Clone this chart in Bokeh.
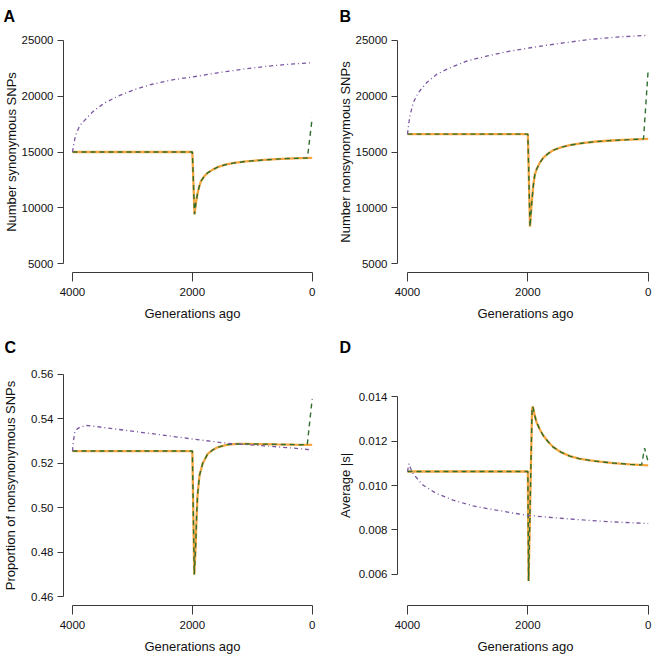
from bokeh.plotting import figure
from bokeh.layouts import column, row
from bokeh.models import Range1d, FixedTicker, PrintfTickFormatter
from bokeh.embed import file_html
from bokeh.resources import INLINE

FONT = "Liberation Sans"
ORANGE = "#F6A640"
GREEN = "#2E6F2E"
PURPLE = "#7A56A0"
AXIS = "#3a3a3a"

# ---------------- Panel A : number of synonymous SNPs ----------------
a_gen = [4000, 2000, 1964, 1940, 1912, 1884, 1856, 1800, 1745, 1660, 1579, 1450,
         1302, 1100, 859, 600, 416, 200, 0]
a_orange = [15000, 15000, 9420, 10440, 11330, 11930, 12380, 12830, 13130, 13420,
            13640, 13860, 14020, 14160, 14265, 14360, 14415, 14450, 14480]
a_green_gen = [4000, 2000, 1964, 1940, 1912, 1884, 1856, 1800, 1745, 1660, 1579, 1450,
               1302, 1100, 859, 600, 416, 200, 80, 0]
a_green = [15000, 15000, 9420, 10440, 11330, 11930, 12380, 12830, 13130, 13420,
           13640, 13860, 14020, 14160, 14265, 14360, 14415, 14450, 14465, 18060]
a_purple_gen = [4000, 3990, 3960, 3934, 3880, 3796, 3700, 3630, 3463, 3241, 2965,
                2687, 2355, 2000, 1579, 1136, 748, 305, 0]
a_purple = [15000, 15370, 16200, 16710, 17350, 17850, 18400, 18750, 19400, 20000,
            20600, 21050, 21450, 21720, 22100, 22430, 22690, 22900, 23000]

# ---------------- Panel B : number of nonsynonymous SNPs ----------------
b_gen = [4000, 2000, 1964, 1940, 1911, 1884, 1856, 1800, 1745, 1660, 1579, 1450,
         1303, 1100, 859, 600, 416, 200, 0]
b_orange = [16600, 16600, 8300, 10140, 11930, 12980, 13430, 14050, 14470, 14870,
            15160, 15420, 15610, 15790, 15940, 16030, 16085, 16140, 16175]
b_green_gen = [4000, 2000, 1964, 1940, 1911, 1884, 1856, 1800, 1745, 1660, 1579, 1450,
               1303, 1100, 859, 600, 416, 200, 78, 0]
b_green = [16600, 16600, 8300, 10140, 11930, 12980, 13430, 14050, 14470, 14870,
           15160, 15420, 15610, 15790, 15940, 16030, 16085, 16140, 16160, 22400]
b_purple_gen = [4000, 3985, 3961, 3906, 3823, 3685, 3519, 3297, 3020, 2688, 2300,
                1856, 1413, 970, 526, 0]
b_purple = [16600, 17300, 18210, 19400, 20300, 21200, 21950, 22540, 23140, 23590,
            24040, 24430, 24780, 25090, 25300, 25460]

# ---------------- Panel C : proportion of nonsynonymous SNPs ----------------
c_gen = [4000, 2000, 1968, 1948, 1931, 1914, 1881, 1828, 1745, 1660, 1579, 1413,
         1250, 1080, 800, 582, 300, 0]
c_orange = [0.5255, 0.5255, 0.4700, 0.4808, 0.4943, 0.5055, 0.5145, 0.5199, 0.5242,
            0.5260, 0.5272, 0.5284, 0.5287, 0.5287, 0.5286, 0.5285, 0.5284, 0.5283]
c_green_gen = [4000, 2000, 1968, 1948, 1931, 1914, 1881, 1828, 1745, 1660, 1579, 1413,
               1250, 1080, 800, 582, 300, 83, 0]
c_green = [0.5255, 0.5255, 0.4700, 0.4808, 0.4943, 0.5055, 0.5145, 0.5199, 0.5242,
           0.5260, 0.5272, 0.5284, 0.5287, 0.5287, 0.5286, 0.5285, 0.5284, 0.5283, 0.5490]
c_purple_gen = [4000, 3985, 3961, 3920, 3879, 3767, 3630, 3075, 2521, 1967, 1413,
                859, 305, 0]
c_purple = [0.5255, 0.5300, 0.5340, 0.5355, 0.5362, 0.5370, 0.5366, 0.5347, 0.5328,
            0.5308, 0.5290, 0.5280, 0.5268, 0.5260]

# ---------------- Panel D : average |s| ----------------
d_gen = [4000, 2000, 1988, 1930, 1920, 1905, 1890, 1856, 1800, 1745, 1660, 1579,
         1450, 1302, 1150, 970, 800, 582, 300, 0]
d_orange = [0.01063, 0.01063, 0.00570, 0.01340, 0.01356, 0.01340, 0.01320, 0.01285,
            0.01252, 0.01225, 0.01196, 0.01173, 0.01150, 0.01132, 0.01121, 0.01113,
            0.01107, 0.01101, 0.01095, 0.01091]
d_green_gen = [4000, 2000, 1988, 1930, 1920, 1905, 1890, 1856, 1800, 1745, 1660, 1579,
               1450, 1302, 1150, 970, 800, 582, 300, 110, 60, 0]
d_green = [0.01063, 0.01063, 0.00570, 0.01340, 0.01356, 0.01340, 0.01320, 0.01285,
           0.01252, 0.01225, 0.01196, 0.01173, 0.01150, 0.01132, 0.01121, 0.01113,
           0.01107, 0.01101, 0.01095, 0.01093, 0.01168, 0.01105]
d_purple_gen = [4000, 3975, 3950, 3906, 3820, 3739, 3518, 3241, 2908, 2521, 2022,
                1524, 1080, 582, 0]
d_purple = [0.01063, 0.01098, 0.01078, 0.01053, 0.01025, 0.01001, 0.00964, 0.00934,
            0.00908, 0.00889, 0.00866, 0.00854, 0.00845, 0.00836, 0.00829]

x_ticks = [0, 2000, 4000]
ab_ticks = [5000, 10000, 15000, 20000, 25000]
c_ticks = [0.46, 0.48, 0.50, 0.52, 0.54, 0.56]
d_ticks = [0.006, 0.008, 0.010, 0.012, 0.014]


def make_panel(letter, width, height, borders, xr, yr, yticks, ylabel, fmt,
               title_offset, title_standoff, ylabel_standoff,
               og, ov, gg, gv, pg, pv):
    left, right, top, bottom = borders
    p = figure(width=width, height=height, x_range=Range1d(*xr), y_range=Range1d(*yr),
               output_backend="svg", toolbar_location=None, title=letter,
               min_border_left=left, min_border_right=right,
               min_border_top=top, min_border_bottom=bottom)
    p.outline_line_color = None
    p.grid.visible = False
    p.background_fill_color = "white"
    p.border_fill_color = "white"

    p.title.text_font = FONT
    p.title.text_font_size = "16px"
    p.title.text_font_style = "bold"
    p.title.text_color = "black"
    p.title.align = "left"
    p.title.vertical_align = "top"
    p.title.offset = title_offset
    p.title.standoff = title_standoff

    xa = p.xaxis[0]
    xa.ticker = FixedTicker(ticks=x_ticks)
    xa.bounds = (0, 4000)
    xa.axis_label = "Generations ago"
    ya = p.yaxis[0]
    ya.ticker = FixedTicker(ticks=yticks)
    ya.bounds = (min(yticks), max(yticks))
    ya.axis_label = ylabel
    ya.formatter = PrintfTickFormatter(format=fmt)
    for ax in (xa, ya):
        ax.axis_line_color = AXIS
        ax.axis_line_width = 1
        ax.major_tick_line_color = AXIS
        ax.major_tick_in = 0
        ax.minor_tick_line_color = None
        ax.major_label_text_font = FONT
        ax.major_label_text_font_size = "11.5px"
        ax.major_label_text_color = "#111111"
        ax.axis_label_text_font = FONT
        ax.axis_label_text_font_size = "13px"
        ax.axis_label_text_font_style = "normal"
        ax.axis_label_text_color = "#111111"
    xa.major_tick_out = 9
    xa.major_label_standoff = 6
    xa.axis_label_standoff = 7
    ya.major_tick_out = 6
    ya.major_label_standoff = 4
    ya.axis_label_standoff = ylabel_standoff

    p.line(og, ov, line_color=ORANGE, line_width=2.3)
    p.line(gg, gv, line_color=GREEN, line_width=1.4, line_dash="5 4")
    p.line(pg, pv, line_color=PURPLE, line_width=1.3, line_dash="4 3 1 3")
    return p


W1, W2 = 327, 327
H1, H2 = 327, 330

pA = make_panel("A", W1, H1, (62, 6, 31, 55), (4150, -155), (4200, 25800), ab_ticks,
                "Number synonymous SNPs", "%d", -60, 9, 0,
                a_gen, a_orange, a_green_gen, a_green, a_purple_gen, a_purple)
pB = make_panel("B", W2, H1, (70, 1, 31, 55), (4166, -88), (4200, 25800), ab_ticks,
                "Number nonsynonymous SNPs", "%d", -58, 9, 0,
                b_gen, b_orange, b_green_gen, b_green, b_purple_gen, b_purple)
pC = make_panel("C", W1, H2, (62, 6, 38, 52), (4150, -155), (0.456, 0.564), c_ticks,
                "Proportion of nonsynonymous SNPs", "%.2f", -59, 16, 10,
                c_gen, c_orange, c_green_gen, c_green, c_purple_gen, c_purple)
pD = make_panel("D", W2, H2, (70, 1, 38, 52), (4166, -88), (0.0046, 0.0154), d_ticks,
                "Average |s|", "%.3f", -58, 16, 3,
                d_gen, d_orange, d_green_gen, d_green, d_purple_gen, d_purple)

layout = column(row(pA, pB), row(pC, pD))

open("out.html", "w").write(file_html(layout, INLINE))
